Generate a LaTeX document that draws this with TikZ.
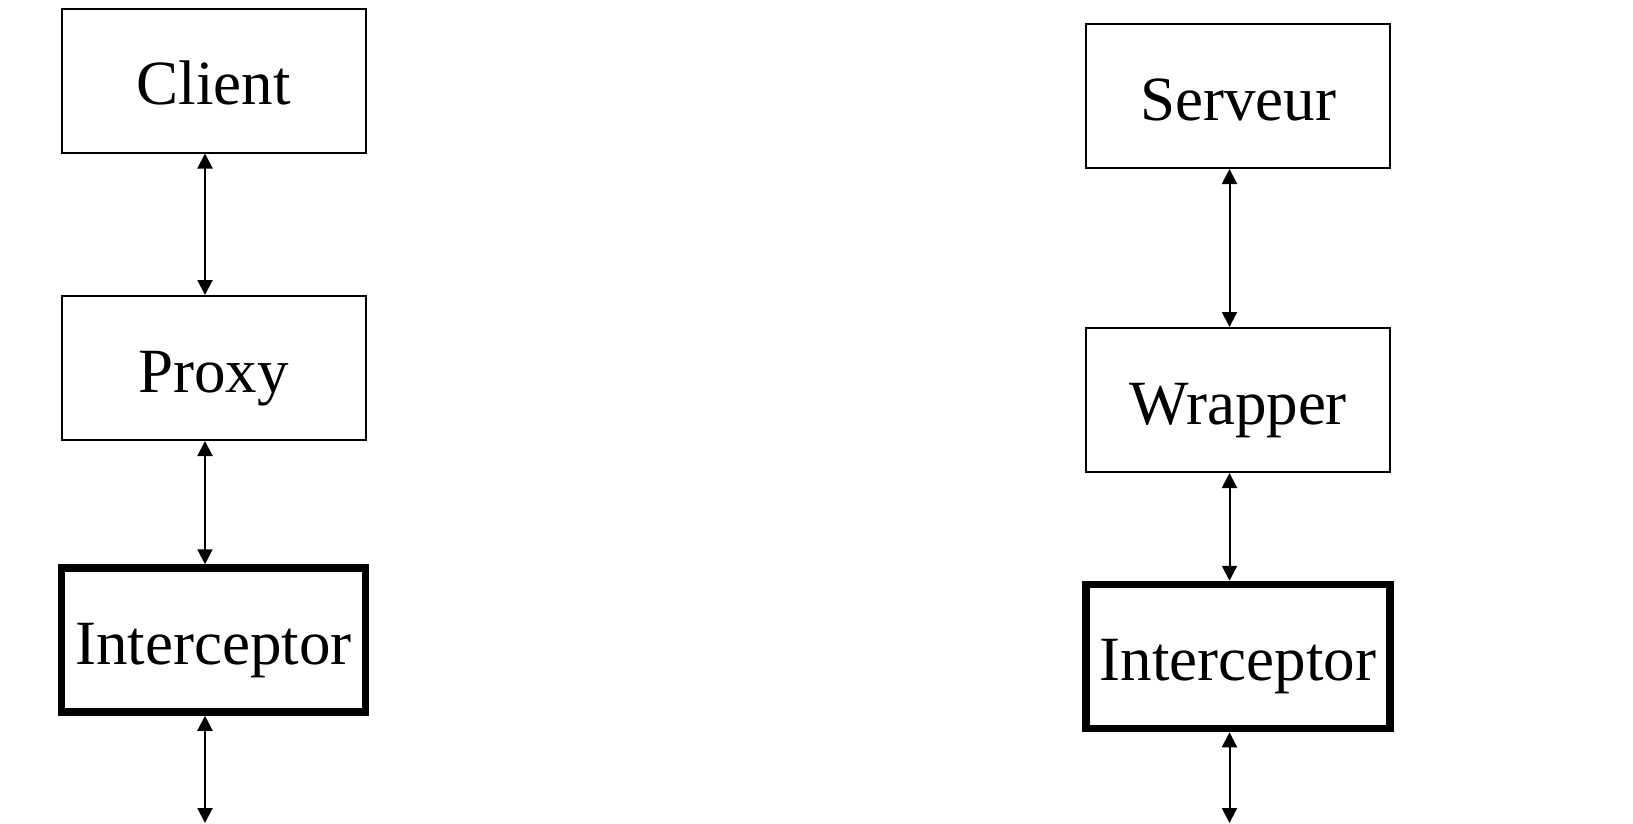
\documentclass[tikz,border=0pt]{standalone}
\usepackage{fontspec}
\setmainfont{Liberation Serif}
\usetikzlibrary{arrows.meta}
\begin{document}
\begin{tikzpicture}[x=1pt,y=-1pt,
  box/.style={draw,line width=2pt,minimum width=304pt,minimum height=144pt,
    inner sep=0pt,text height=48pt,text depth=0pt,font=\fontsize{63}{76}\selectfont},
  heavybox/.style={box,line width=7.5pt},
  link/.style={line width=2pt,{Triangle[width=15pt,length=15pt]}-{Triangle[width=15pt,length=15pt]}}]
\useasboundingbox (0,0) rectangle (1633,823);
% client side
\node[box] (client) at (213.5,80.5) {Client};
\node[box] (proxy) at (213.5,368) {Proxy};
\node[heavybox] (icl) at (213.5,640) {Interceptor};
\coordinate (endl) at (205,823);
% server side
\node[box] (server) at (1238,96) {Serveur};
\node[box] (wrapper) at (1238,400) {Wrapper};
\node[heavybox] (isv) at (1238,656.5) {Interceptor};
\coordinate (endr) at (1229.5,823);
% connectors
\draw[link] ([xshift=-8.5pt]client.south) -- ([xshift=-8.5pt]proxy.north);
\draw[link] ([xshift=-8.5pt]proxy.south) -- ([xshift=-8.5pt]icl.north);
\draw[link] ([xshift=-8.5pt]icl.south) -- (endl);
\draw[link] ([xshift=-8.5pt]server.south) -- ([xshift=-8.5pt]wrapper.north);
\draw[link] ([xshift=-8.5pt]wrapper.south) -- ([xshift=-8.5pt]isv.north);
\draw[link] ([xshift=-8.5pt]isv.south) -- (endr);
\end{tikzpicture}
\end{document}
